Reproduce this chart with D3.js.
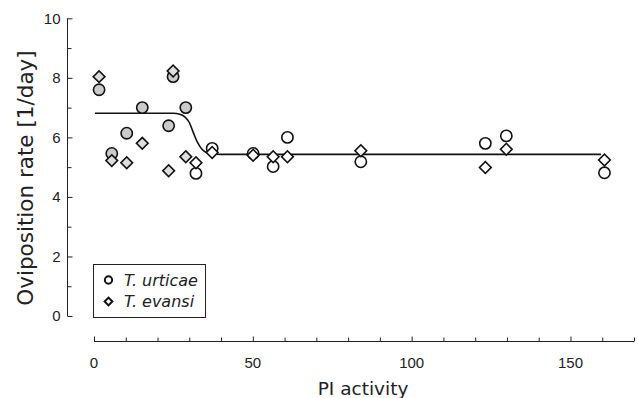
<!DOCTYPE html>
<html lang="en">
<head>
    <meta charset="UTF-8">
    <title>Oviposition rate vs PI activity</title>
    <script src="https://d3js.org/d3.v7.min.js"></script>
    <style>
        body { margin: 0; background: #fff; }
        svg { font-family: "DejaVu Sans", Verdana, sans-serif; }
        .axis path, .axis line { stroke: #222; }
        .axis text { font-size: 15px; fill: #222; }
        .title { fill: #222; }
    </style>
</head>
<body>
    <svg width="638" height="398"></svg>
    <script>
        // T. urticae (circles)
        const urticaeX = [1.6, 5.6, 10.3, 15.2, 23.5, 24.9, 28.9, 32.1, 37.2, 50.1, 56.4, 60.9, 84.0, 123.2, 129.8, 160.7];
        const urticaeY = [7.6, 5.46, 6.14, 7.0, 6.39, 8.04, 7.0, 4.79, 5.63, 5.46, 5.02, 6.0, 5.18, 5.8, 6.05, 4.81];
        // T. evansi (diamonds)
        const evansiX = [1.6, 5.6, 10.3, 15.2, 23.5, 24.9, 28.9, 32.1, 37.2, 50.1, 56.4, 60.9, 84.0, 123.2, 129.8, 160.7];
        const evansiY = [8.04, 5.22, 5.15, 5.8, 4.88, 8.23, 5.35, 5.15, 5.49, 5.4, 5.35, 5.35, 5.55, 4.99, 5.6, 5.24];
        // fitted step curve
        const fitX = [0.3, 25, 27, 28.5, 30, 31.3, 32.5, 34, 35.5, 37, 40, 159.6];
        const fitY = [6.81, 6.81, 6.78, 6.7, 6.5, 6.15, 5.85, 5.6, 5.48, 5.44, 5.43, 5.43];

        const xTicks = [0, 50, 100, 150];
        const yTicks = [0, 2, 4, 6, 8, 10];
        const legendLabels = ["T. urticae", "T. evansi"];

        const svg = d3.select("svg");
        const x = d3.scaleLinear().domain([0, 170]).range([94, 634]);
        const y = d3.scaleLinear().domain([0, 10]).range([316, 18.3]);
        const xAxisY = 341.5;
        const yAxisX = 67.5;

        // x axis
        const gx = svg.append("g").attr("class", "axis")
            .attr("transform", `translate(0,${xAxisY})`);
        gx.call(d3.axisTop(x).tickValues(d3.range(0, 171, 10)).tickSize(5).tickFormat(""))
            .call(g => g.select(".domain").attr("d", `M${x(0)},0H${x(170)}`));
        gx.selectAll(".tick line").attr("y2", d => xTicks.includes(d) ? -5 : -4);
        gx.selectAll(".xlab").data(xTicks).enter().append("text")
            .attr("x", d => x(d)).attr("y", 26)
            .attr("text-anchor", "middle")
            .text(d => d);

        // y axis
        const gy = svg.append("g").attr("class", "axis")
            .attr("transform", `translate(${yAxisX},0)`);
        gy.call(d3.axisRight(y).tickValues(d3.range(0, 11, 1)).tickSize(5).tickFormat(""))
            .call(g => g.select(".domain").attr("d", `M0,${y(0)}V${y(10)}`));
        gy.selectAll(".tick line").attr("x2", d => yTicks.includes(d) ? 5 : 4);
        gy.selectAll(".ylab").data(yTicks).enter().append("text")
            .attr("x", -7).attr("y", d => y(d))
            .attr("dy", "0.36em")
            .attr("text-anchor", "end")
            .text(d => d);

        svg.append("text").attr("class", "title")
            .attr("x", 363).attr("y", 395)
            .attr("text-anchor", "middle")
            .style("font-size", "18.5px")
            .text("PI activity");
        svg.append("text").attr("class", "title")
            .attr("transform", "translate(33,178) rotate(-90)")
            .attr("text-anchor", "middle")
            .style("font-size", "21.5px")
            .text("Oviposition rate [1/day]");

        // fit line
        const line = d3.line().x(d => x(d[0])).y(d => y(d[1])).curve(d3.curveMonotoneX);
        svg.append("path")
            .datum(fitX.map((v, i) => [v, fitY[i]]))
            .attr("d", line)
            .attr("fill", "none")
            .attr("stroke", "#111")
            .attr("stroke-width", 1.6);

        const circle = d3.symbol().type(d3.symbolCircle).size(100);
        const diamond = d3.symbol().type(d3.symbolSquare).size(68);

        svg.append("g").selectAll("path")
            .data(urticaeX.map((v, i) => [v, urticaeY[i]]))
            .enter().append("path")
            .attr("d", circle)
            .attr("transform", d => `translate(${x(d[0])},${y(d[1])})`)
            .attr("fill", d => d[0] < 30 ? "#cbcbcb" : "#fff")
            .attr("stroke", "#111")
            .attr("stroke-width", 1.6);

        svg.append("g").selectAll("path")
            .data(evansiX.map((v, i) => [v, evansiY[i]]))
            .enter().append("path")
            .attr("d", diamond)
            .attr("transform", d => `translate(${x(d[0])},${y(d[1])}) rotate(45)`)
            .attr("fill", d => d[0] < 30 ? "#dedede" : "#fff")
            .attr("stroke", "#111")
            .attr("stroke-width", 1.6);

        // legend
        const lg = svg.append("g");
        lg.append("rect")
            .attr("x", 93.5).attr("y", 264.5).attr("width", 112).attr("height", 53)
            .attr("fill", "#fff").attr("stroke", "#222");
        const legendSym = [d3.symbol().type(d3.symbolCircle).size(42), d3.symbol().type(d3.symbolSquare).size(30)];
        legendLabels.forEach((name, i) => {
            lg.append("path")
                .attr("d", legendSym[i])
                .attr("transform", `translate(108.5,${280 + i * 21.5})` + (i ? " rotate(45)" : ""))
                .attr("fill", "#fff").attr("stroke", "#111").attr("stroke-width", 2);
            lg.append("text")
                .attr("x", 124).attr("y", 280 + i * 21.5)
                .attr("dy", "0.36em")
                .style("font-size", "16px").style("font-style", "italic").attr("fill", "#222")
                .text(name);
        });
    </script>
</body>
</html>
